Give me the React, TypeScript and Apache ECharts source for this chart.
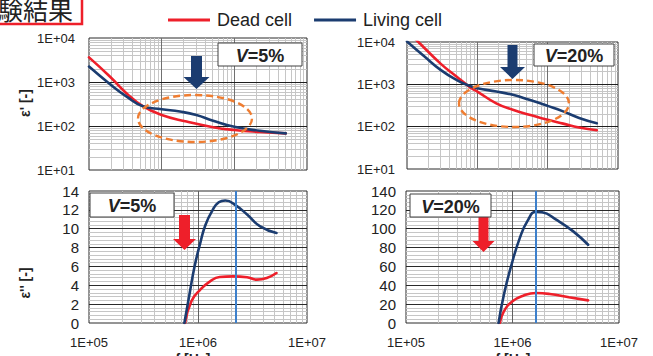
import React, { useEffect, useRef } from 'react';
import * as echarts from 'echarts';

const FONT = 'Arial, "Liberation Sans", sans-serif';
const RED = '#ee1f2a';
const NAVY = '#1b3c70';
const ORANGE = '#ef7d31';
const VLINE = '#3d80cc';

// Top-left: eps' at V=5%
const fTLDead = [1e4, 1.95e4, 3.3e4, 5.5e4, 1e5, 2.2e5, 5.1e5, 1e6, 2.24e6, 5.1e6];
const eTLDead = [3630, 1320, 550, 282, 178, 126, 94, 81, 73, 68];
const fTLLive = [1e4, 1.95e4, 3.3e4, 5.5e4, 1e5, 1.78e5, 3.0e5, 5.1e5, 1e6, 2.24e6, 5.1e6];
const eTLLive = [2240, 890, 465, 282, 240, 213, 178, 132, 96, 78, 68];

// Top-right: eps' at V=20%
const fTRDead = [1e4, 1.45e4, 3.0e4, 5.1e4, 7.9e4, 1e5, 1.86e5, 3.2e5, 5.5e5, 1e6, 1.66e6, 2.8e6, 5.0e6];
const eTRDead = [18000, 10000, 3090, 1510, 850, 675, 355, 250, 192, 145, 118, 96, 82];
const fTRLive = [1e4, 1.74e4, 3.0e4, 5.1e4, 7.9e4, 1e5, 1.86e5, 3.2e5, 5.5e5, 1e6, 1.66e6, 2.8e6, 5.0e6];
const eTRLive = [10300, 4650, 2190, 1260, 910, 810, 675, 565, 430, 310, 230, 160, 120];

// Bottom-left: eps'' at V=5%
const fBLDead = [7.6e5, 8.7e5, 1.05e6, 1.29e6, 1.58e6, 2.09e6, 2.82e6, 3.47e6, 4.27e6, 5.25e6];
const eBLDead = [0, 2.3, 3.54, 4.42, 4.88, 4.95, 4.85, 4.6, 4.77, 5.3];
const fBLLive = [7.5e5, 8.4e5, 9.3e5, 1.05e6, 1.17e6, 1.35e6, 1.55e6, 1.78e6, 2.24e6, 2.82e6, 3.72e6, 5.25e6];
const eBLLive = [0, 3.2, 6.0, 8.5, 10.4, 11.9, 12.8, 13.0, 12.45, 11.5, 10.25, 9.55];

// Bottom-right: eps'' at V=20%
const fBRDead = [7.6e5, 8.3e5, 1e6, 1.26e6, 1.66e6, 2.24e6, 3.39e6, 5.13e6];
const eBRDead = [0, 12.4, 23, 29, 31.8, 30.8, 27.3, 24];
const fBRLive = [7.4e5, 8.3e5, 9.8e5, 1.17e6, 1.38e6, 1.66e6, 1.9e6, 2.57e6, 3.72e6, 5.13e6];
const eBRLive = [0, 30, 62, 90, 108, 118, 117.5, 109.6, 97.2, 83];

// Relaxation-frequency markers
const peakBL = 2.23e6;
const peakBR = 1.66e6;

const legendNames = ['Dead cell', 'Living cell'];

const zip = (f: number[], v: number[]) => f.map((x, i) => [x, v[i]]);

const MINOR = '#c6c6c6';

function logMinor(decades: number[]) {
  const out: number[] = [];
  decades.forEach((d) => {
    for (let m = 2; m <= 9; m++) out.push(d * m);
  });
  return out;
}

function linMinor(max: number, step: number, major: number) {
  const out: number[] = [];
  for (let k = 1; k * step < max - 1e-9; k++) {
    const v = k * step;
    if (Math.abs(v / major - Math.round(v / major)) > 1e-6) out.push(+v.toFixed(4));
  }
  return out;
}

function gridSeries(
  idx: number,
  xMin: number[],
  yMin: number[],
  xMaj: number[],
  yMaj: number[],
  xMajColor: string,
  yMajColor: string
) {
  const data: any[] = [];
  xMin.forEach((v) => data.push({ xAxis: v, lineStyle: { color: MINOR, width: 1, type: 'solid' } }));
  yMin.forEach((v) => data.push({ yAxis: v, lineStyle: { color: MINOR, width: 1, type: 'solid' } }));
  xMaj.forEach((v) => data.push({ xAxis: v, lineStyle: { color: xMajColor, width: 1, type: 'solid' } }));
  yMaj.forEach((v) => data.push({ yAxis: v, lineStyle: { color: yMajColor, width: 1, type: 'solid' } }));
  return {
    type: 'line',
    xAxisIndex: idx,
    yAxisIndex: idx,
    data: [],
    z: 1,
    silent: true,
    markLine: {
      z: 1,
      silent: true,
      symbol: ['none', 'none'],
      label: { show: false },
      emphasis: { disabled: true },
      data,
    },
  };
}

const logLabel = (v: number) => {
  const e = Math.round(Math.log10(v));
  return '1E+' + String(e).padStart(2, '0');
};

function curve(idx: number, name: string, color: string, f: number[], v: number[]) {
  return {
    type: 'line',
    name,
    xAxisIndex: idx,
    yAxisIndex: idx,
    data: zip(f, v),
    showSymbol: false,
    smooth: 0.5,
    z: 3,
    lineStyle: { color, width: 2.6, cap: 'round', join: 'round' },
    itemStyle: { color },
    emphasis: { disabled: true },
  };
}

function vBox(x: number, y: number, w: number, h: number, pct: string) {
  return [
    {
      type: 'rect',
      z: 50,
      shape: { x, y, width: w, height: h },
      style: { fill: '#fff', stroke: '#404040', lineWidth: 1 },
    },
    {
      type: 'text',
      z: 51,
      x: x + w / 2,
      y: y + h / 2 + 1,
      style: {
        text: '{i|V}{n|=' + pct + '}',
        align: 'center',
        verticalAlign: 'middle',
        rich: {
          i: { fontStyle: 'italic', fontWeight: 'bold', fontSize: 18, fontFamily: FONT, fill: '#222' },
          n: { fontWeight: 'bold', fontSize: 18, fontFamily: FONT, fill: '#222' },
        },
      },
    },
  ];
}

function arrow(cx: number, top: number, neck: number, tip: number, shaftW: number, headW: number, color: string) {
  const s = shaftW / 2;
  const h = headW / 2;
  return {
    type: 'polygon',
    z: 50,
    shape: {
      points: [
        [cx - s, top],
        [cx + s, top],
        [cx + s, neck],
        [cx + h, neck],
        [cx, tip],
        [cx - h, neck],
        [cx - s, neck],
      ],
    },
    style: { fill: color },
  };
}

function peakSeries(idx: number, value: number) {
  return {
    type: 'line',
    xAxisIndex: idx,
    yAxisIndex: idx,
    data: [],
    z: 4,
    silent: true,
    markLine: {
      z: 4,
      silent: true,
      symbol: ['none', 'none'],
      label: { show: false },
      lineStyle: { color: VLINE, width: 2, type: 'solid' },
      data: [{ xAxis: value }],
    },
  };
}

export default function App() {
  const ref = useRef<HTMLDivElement>(null);
  useEffect(() => {
    if (!ref.current) return;
    const chart = echarts.init(ref.current, undefined, { renderer: 'svg' });

    const grids = [
      { left: 89, top: 38, width: 218, height: 132 },
      { left: 407, top: 42, width: 211, height: 127 },
      { left: 89, top: 191, width: 218, height: 132 },
      { left: 406, top: 191, width: 213, height: 132 },
    ].map((g) => ({ ...g, show: true, borderColor: '#2a2a2a', borderWidth: 1, backgroundColor: '#fff', z: 0 }));

    const topX = (i: number) => ({
      type: 'log',
      logBase: 10,
      gridIndex: i,
      min: 1e4,
      max: 1e7,
      axisLine: { show: false },
      axisTick: { show: false },
      axisLabel: { show: false },
      splitLine: { show: false },
    });
    const botX = (i: number) => ({
      type: 'log',
      logBase: 10,
      gridIndex: i,
      min: 1e5,
      max: 1e7,
      axisLine: { show: false },
      axisTick: { show: false },
      splitLine: { show: false },
      axisLabel: { formatter: logLabel, fontSize: 13, fontFamily: FONT, color: '#222', margin: 13 },
    });
    const topY = (i: number, margin: number) => ({
      type: 'log',
      logBase: 10,
      gridIndex: i,
      min: 10,
      max: 1e4,
      axisLine: { show: false },
      axisTick: { show: false },
      splitLine: { show: false },
      axisLabel: { formatter: logLabel, fontSize: 13, fontFamily: FONT, color: '#222', margin },
    });
    const botY = (i: number, max: number, interval: number) => ({
      type: 'value',
      gridIndex: i,
      min: 0,
      max,
      interval,
      axisLine: { show: false },
      axisTick: { show: false },
      splitLine: { show: false },
      axisLabel: { fontSize: 15, fontFamily: FONT, color: '#222', margin: 10 },
    });

    const topXMinor = logMinor([1e4, 1e5, 1e6]);
    const topYMinor = logMinor([10, 100, 1000]);
    const botXMinor = logMinor([1e5, 1e6]);

    const series: any[] = [
      gridSeries(0, topXMinor, topYMinor, [1e5, 1e6], [100, 1000], '#707070', '#1e1e1e'),
      gridSeries(1, topXMinor, topYMinor, [1e5, 1e6], [100, 1000], '#707070', '#1e1e1e'),
      gridSeries(2, botXMinor, linMinor(14, 0.4, 2), [1e6], [2, 4, 6, 8, 10, 12], '#606060', '#2a2a2a'),
      gridSeries(3, botXMinor, linMinor(140, 4, 20), [1e6], [20, 40, 60, 80, 100, 120], '#606060', '#2a2a2a'),
      curve(0, legendNames[0], RED, fTLDead, eTLDead),
      curve(0, legendNames[1], NAVY, fTLLive, eTLLive),
      curve(1, legendNames[0], RED, fTRDead, eTRDead),
      curve(1, legendNames[1], NAVY, fTRLive, eTRLive),
      curve(2, legendNames[0], RED, fBLDead, eBLDead),
      curve(2, legendNames[1], NAVY, fBLLive, eBLLive),
      curve(3, legendNames[0], RED, fBRDead, eBRDead),
      curve(3, legendNames[1], NAVY, fBRLive, eBRLive),
      peakSeries(2, peakBL),
      peakSeries(3, peakBR),
    ];

    const ellipseStyle = { fill: 'none', stroke: ORANGE, lineWidth: 2.4, lineDash: [7, 4] };
    const axisNameStyle = { fontSize: 14, fontWeight: 'bold', fontFamily: FONT, fill: '#222' };

    const graphic: any[] = [
      {
        type: 'rect',
        z: 60,
        shape: { x: -40, y: -10, width: 122, height: 34 },
        style: { fill: '#fff', stroke: RED, lineWidth: 2.5 },
      },
      {
        type: 'text',
        z: 61,
        x: 73,
        y: 9,
        style: {
          text: '試験結果',
          align: 'right',
          verticalAlign: 'middle',
          fontSize: 25,
          fontFamily: '"Noto Sans CJK JP", sans-serif',
          fill: '#222',
        },
      },
      { type: 'ellipse', z: 40, shape: { cx: 195, cy: 118.5, rx: 57, ry: 23.5 }, style: ellipseStyle },
      { type: 'ellipse', z: 40, shape: { cx: 514, cy: 103.5, rx: 55, ry: 23.5 }, style: ellipseStyle },
      arrow(196.5, 56, 77, 89, 11, 26, NAVY),
      arrow(512.5, 45, 67, 79, 10, 25, NAVY),
      arrow(184.5, 215, 239, 250, 11, 23, RED),
      arrow(483.5, 216, 241, 252, 10, 22, RED),
      ...vBox(218, 43, 84, 23, '5%'),
      ...vBox(534, 44, 80, 22, '20%'),
      ...vBox(90, 193, 84, 24, '5%'),
      ...vBox(410, 194, 81, 23, '20%'),
      {
        type: 'text',
        z: 30,
        x: 25,
        y: 103,
        rotation: Math.PI / 2,
        style: { text: "ε' [-]", align: 'center', verticalAlign: 'middle', ...axisNameStyle },
      },
      {
        type: 'text',
        z: 30,
        x: 25,
        y: 283,
        rotation: Math.PI / 2,
        style: { text: "ε'' [-]", align: 'center', verticalAlign: 'middle', ...axisNameStyle },
      },
      {
        type: 'text',
        z: 30,
        x: 193,
        y: 352,
        style: { text: 'f [Hz]', align: 'center', verticalAlign: 'top', ...axisNameStyle },
      },
      {
        type: 'text',
        z: 30,
        x: 513,
        y: 352,
        style: { text: 'f [Hz]', align: 'center', verticalAlign: 'top', ...axisNameStyle },
      },
    ];

    chart.setOption({
      animation: false,
      backgroundColor: '#fff',
      legend: {
        data: legendNames,
        left: 163,
        top: 6,
        icon: 'rect',
        itemWidth: 42,
        itemHeight: 3,
        itemGap: 22,
        selectedMode: false,
        textStyle: { fontSize: 18, fontFamily: FONT, color: '#222', padding: [0, 0, 0, 2] },
      },
      grid: grids,
      xAxis: [topX(0), topX(1), botX(2), botX(3)],
      yAxis: [topY(0, 14), topY(1, 12), botY(2, 14, 2), botY(3, 140, 20)],
      series,
      graphic,
    });

    return () => chart.dispose();
  }, []);

  return (
    <div
      ref={ref}
      style={{ position: 'fixed', left: 0, top: 0, width: 653, height: 356, background: '#fff' }}
    />
  );
}
